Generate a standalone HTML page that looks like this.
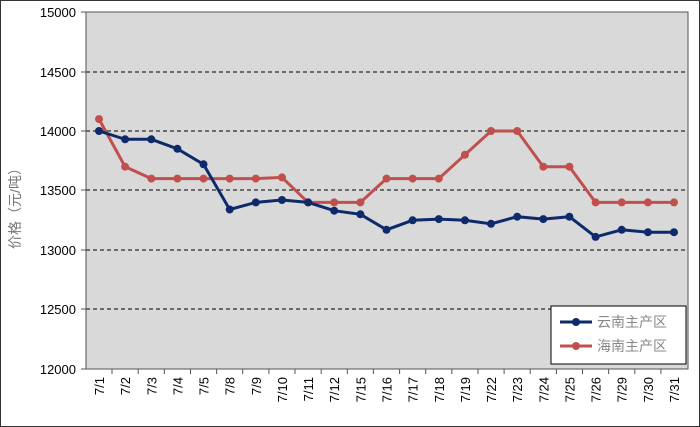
<!DOCTYPE html>
<html><head><meta charset="utf-8"><style>
html,body{margin:0;padding:0;background:#fff}
svg{display:block}
text{font-family:"Liberation Sans","Noto Sans CJK SC",sans-serif}
</style></head><body>
<svg width="700" height="427" viewBox="0 0 700 427" xmlns="http://www.w3.org/2000/svg">
<rect x="0.5" y="0.5" width="699" height="426" fill="#fff" stroke="#333"/>
<rect x="86" y="12" width="602" height="357" fill="#d9d9d9" stroke="#555"/>
<g stroke="#000" stroke-dasharray="4,3" stroke-width="1">
<line x1="86" y1="72" x2="688" y2="72"/>
<line x1="86" y1="131" x2="688" y2="131"/>
<line x1="86" y1="190" x2="688" y2="190"/>
<line x1="86" y1="250" x2="688" y2="250"/>
<line x1="86" y1="309" x2="688" y2="309"/>
</g>
<g stroke="#555">
<line x1="86" y1="12" x2="86" y2="369"/>
<line x1="86" y1="369" x2="688" y2="369"/>
<line x1="81" y1="12" x2="86" y2="12"/><line x1="81" y1="72" x2="86" y2="72"/><line x1="81" y1="131" x2="86" y2="131"/><line x1="81" y1="190" x2="86" y2="190"/><line x1="81" y1="250" x2="86" y2="250"/><line x1="81" y1="309" x2="86" y2="309"/><line x1="81" y1="369" x2="86" y2="369"/>
</g>
<g stroke="#555" id="xt"></g>
<g font-size="13" fill="#000" text-anchor="end">
<text x="76" y="17">15000</text><text x="76" y="77">14500</text><text x="76" y="136">14000</text><text x="76" y="195">13500</text><text x="76" y="255">13000</text><text x="76" y="314">12500</text><text x="76" y="374">12000</text>
</g>
<text transform="translate(20,205) rotate(-90)" font-size="14" fill="#777" text-anchor="middle">价格（元/吨）</text>
<polyline fill="none" stroke="#c0504d" stroke-width="3" points="99,119.1 125.1,166.7 151.3,178.6 177.4,178.6 203.5,178.6 229.7,178.6 255.8,178.6 282,177.4 308.1,202.4 334.2,202.4 360.4,202.4 386.5,178.6 412.6,178.6 438.8,178.6 464.9,154.8 491,131 517.2,131 543.3,166.7 569.4,166.7 595.6,202.4 621.7,202.4 647.9,202.4 674,202.4"/>
<g fill="#c0504d">
<circle cx="99" cy="119.1" r="4"/><circle cx="125.1" cy="166.7" r="4"/><circle cx="151.3" cy="178.6" r="4"/><circle cx="177.4" cy="178.6" r="4"/><circle cx="203.5" cy="178.6" r="4"/><circle cx="229.7" cy="178.6" r="4"/><circle cx="255.8" cy="178.6" r="4"/><circle cx="282" cy="177.4" r="4"/><circle cx="308.1" cy="202.4" r="4"/><circle cx="334.2" cy="202.4" r="4"/><circle cx="360.4" cy="202.4" r="4"/><circle cx="386.5" cy="178.6" r="4"/><circle cx="412.6" cy="178.6" r="4"/><circle cx="438.8" cy="178.6" r="4"/><circle cx="464.9" cy="154.8" r="4"/><circle cx="491" cy="131" r="4"/><circle cx="517.2" cy="131" r="4"/><circle cx="543.3" cy="166.7" r="4"/><circle cx="569.4" cy="166.7" r="4"/><circle cx="595.6" cy="202.4" r="4"/><circle cx="621.7" cy="202.4" r="4"/><circle cx="647.9" cy="202.4" r="4"/><circle cx="674" cy="202.4" r="4"/>
</g>
<polyline fill="none" stroke="#0f2a6b" stroke-width="3" points="99,131 125.1,139.3 151.3,139.3 177.4,148.8 203.5,164.3 229.7,209.5 255.8,202.4 282,200 308.1,202.4 334.2,210.7 360.4,214.3 386.5,229.8 412.6,220.3 438.8,219.1 464.9,220.3 491,223.8 517.2,216.7 543.3,219.1 569.4,216.7 595.6,236.9 621.7,229.8 647.9,232.2 674,232.2"/>
<g fill="#0f2a6b">
<circle cx="99" cy="131" r="4"/><circle cx="125.1" cy="139.3" r="4"/><circle cx="151.3" cy="139.3" r="4"/><circle cx="177.4" cy="148.8" r="4"/><circle cx="203.5" cy="164.3" r="4"/><circle cx="229.7" cy="209.5" r="4"/><circle cx="255.8" cy="202.4" r="4"/><circle cx="282" cy="200" r="4"/><circle cx="308.1" cy="202.4" r="4"/><circle cx="334.2" cy="210.7" r="4"/><circle cx="360.4" cy="214.3" r="4"/><circle cx="386.5" cy="229.8" r="4"/><circle cx="412.6" cy="220.3" r="4"/><circle cx="438.8" cy="219.1" r="4"/><circle cx="464.9" cy="220.3" r="4"/><circle cx="491" cy="223.8" r="4"/><circle cx="517.2" cy="216.7" r="4"/><circle cx="543.3" cy="219.1" r="4"/><circle cx="569.4" cy="216.7" r="4"/><circle cx="595.6" cy="236.9" r="4"/><circle cx="621.7" cy="229.8" r="4"/><circle cx="647.9" cy="232.2" r="4"/><circle cx="674" cy="232.2" r="4"/>
</g>
<g stroke="#555">
<line x1="112" y1="369" x2="112" y2="374"/><line x1="138.2" y1="369" x2="138.2" y2="374"/><line x1="164.3" y1="369" x2="164.3" y2="374"/><line x1="190.5" y1="369" x2="190.5" y2="374"/><line x1="216.6" y1="369" x2="216.6" y2="374"/><line x1="242.7" y1="369" x2="242.7" y2="374"/><line x1="268.9" y1="369" x2="268.9" y2="374"/><line x1="295" y1="369" x2="295" y2="374"/><line x1="321.2" y1="369" x2="321.2" y2="374"/><line x1="347.3" y1="369" x2="347.3" y2="374"/><line x1="373.4" y1="369" x2="373.4" y2="374"/><line x1="399.6" y1="369" x2="399.6" y2="374"/><line x1="425.7" y1="369" x2="425.7" y2="374"/><line x1="451.8" y1="369" x2="451.8" y2="374"/><line x1="478" y1="369" x2="478" y2="374"/><line x1="504.1" y1="369" x2="504.1" y2="374"/><line x1="530.2" y1="369" x2="530.2" y2="374"/><line x1="556.4" y1="369" x2="556.4" y2="374"/><line x1="582.5" y1="369" x2="582.5" y2="374"/><line x1="608.6" y1="369" x2="608.6" y2="374"/><line x1="634.8" y1="369" x2="634.8" y2="374"/><line x1="660.9" y1="369" x2="660.9" y2="374"/>
</g>
<g font-size="13" fill="#000" text-anchor="end">
<text transform="translate(104,377) rotate(-90)">7/1</text>
<text transform="translate(130.1,377) rotate(-90)">7/2</text>
<text transform="translate(156.3,377) rotate(-90)">7/3</text>
<text transform="translate(182.4,377) rotate(-90)">7/4</text>
<text transform="translate(208.5,377) rotate(-90)">7/5</text>
<text transform="translate(234.7,377) rotate(-90)">7/8</text>
<text transform="translate(260.8,377) rotate(-90)">7/9</text>
<text transform="translate(287,377) rotate(-90)">7/10</text>
<text transform="translate(313.1,377) rotate(-90)">7/11</text>
<text transform="translate(339.2,377) rotate(-90)">7/12</text>
<text transform="translate(365.4,377) rotate(-90)">7/15</text>
<text transform="translate(391.5,377) rotate(-90)">7/16</text>
<text transform="translate(417.6,377) rotate(-90)">7/17</text>
<text transform="translate(443.8,377) rotate(-90)">7/18</text>
<text transform="translate(469.9,377) rotate(-90)">7/19</text>
<text transform="translate(496,377) rotate(-90)">7/22</text>
<text transform="translate(522.2,377) rotate(-90)">7/23</text>
<text transform="translate(548.3,377) rotate(-90)">7/24</text>
<text transform="translate(574.4,377) rotate(-90)">7/25</text>
<text transform="translate(600.6,377) rotate(-90)">7/26</text>
<text transform="translate(626.7,377) rotate(-90)">7/29</text>
<text transform="translate(652.9,377) rotate(-90)">7/30</text>
<text transform="translate(679,377) rotate(-90)">7/31</text>
</g>
<rect x="551" y="306" width="135" height="58" fill="#fff" stroke="#000"/>
<line x1="560" y1="322" x2="592" y2="322" stroke="#0f2a6b" stroke-width="3"/><circle cx="576" cy="322" r="4" fill="#0f2a6b"/>
<line x1="560" y1="346" x2="592" y2="346" stroke="#c0504d" stroke-width="3"/><circle cx="576" cy="346" r="4" fill="#c0504d"/>
<g font-size="14" fill="#888"><text x="597" y="327">云南主产区</text><text x="597" y="351">海南主产区</text></g>
</svg>
</body></html>
